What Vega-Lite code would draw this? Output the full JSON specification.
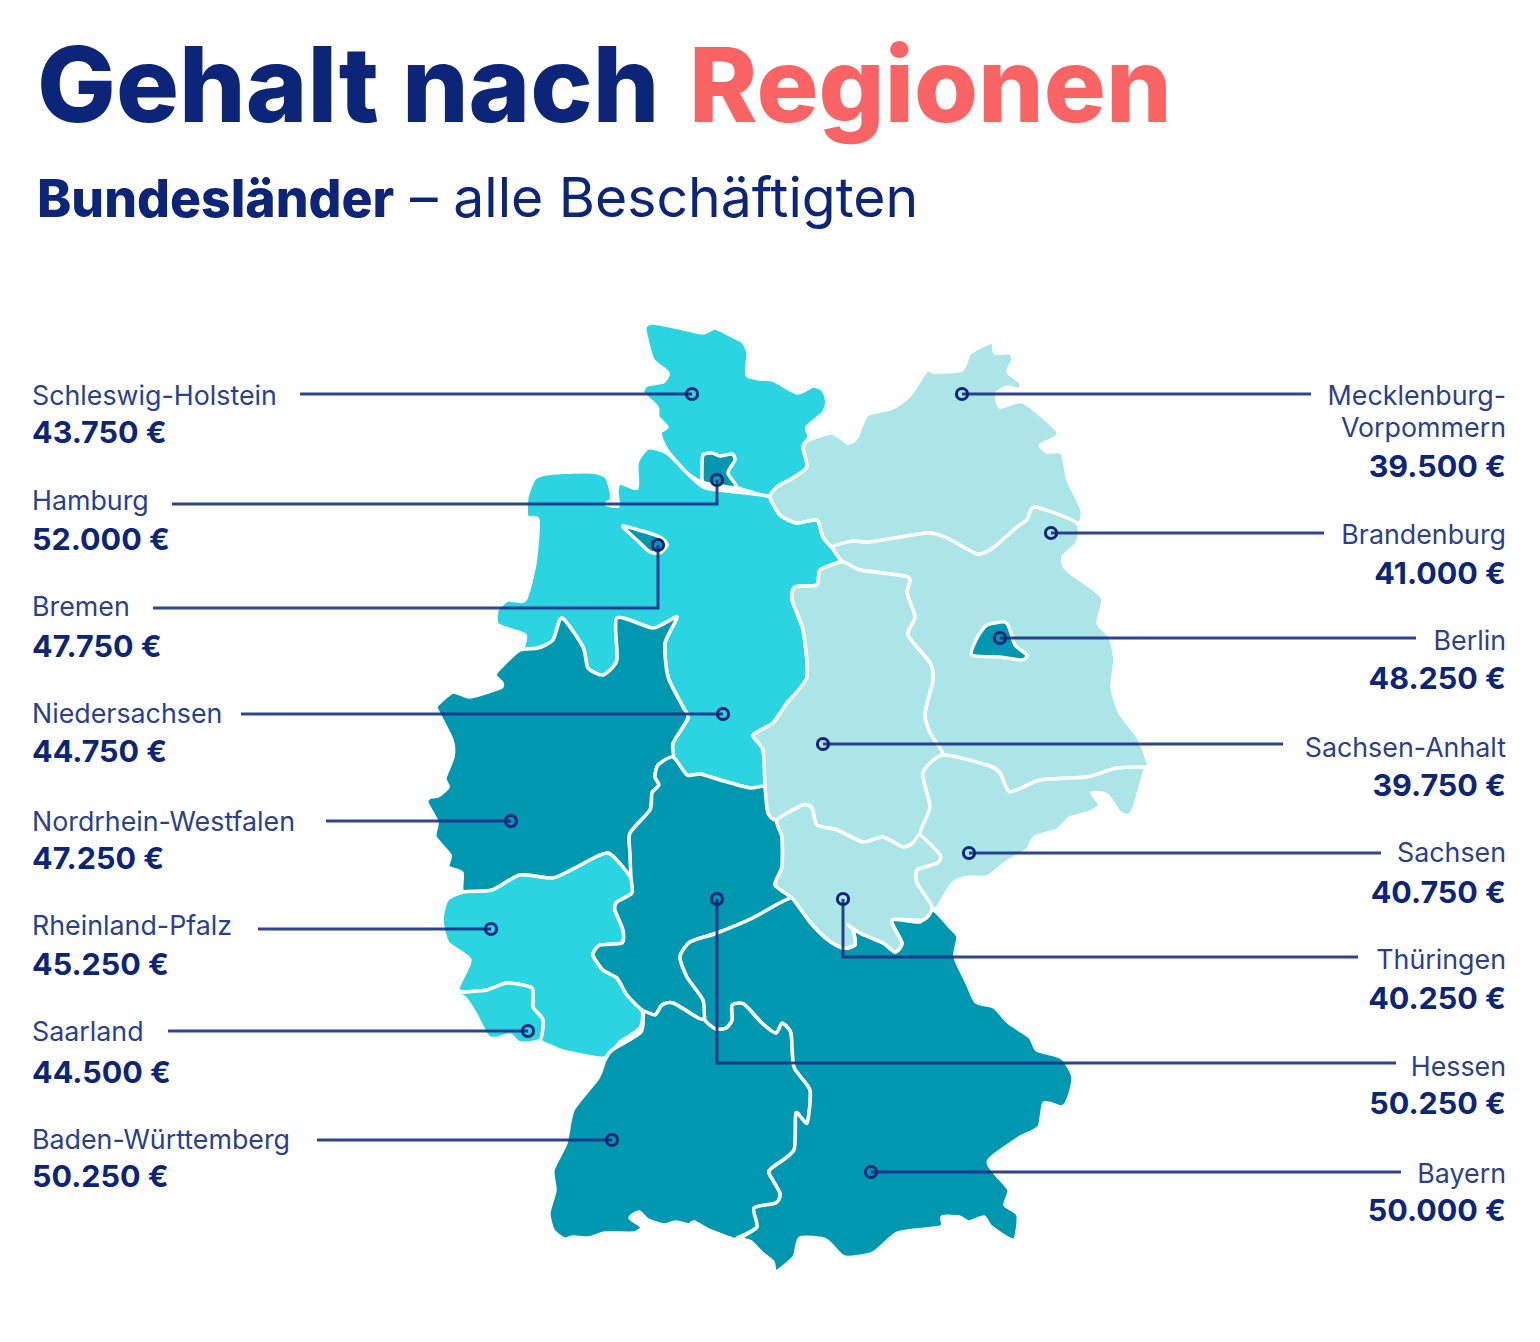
{"$schema":"https://vega.github.io/schema/vega-lite/v6.json","width":1540,"height":1342,"padding":0,"autosize":{"type":"none"},"background":"white","config":{"view":{"stroke":null}},
"encoding":{"x":{"field":"x","type":"quantitative","scale":{"domain":[0,1540]},"axis":null},"y":{"field":"y","type":"quantitative","scale":{"domain":[1342,0]},"axis":null}},
"datasets":{
"regions":[
{"name":"Schleswig-Holstein","salary":43750,"pts":[[645,327],[653,323],[680,328],[703,333],[715,328],[730,335],[743,342],[748,353],[747,375],[760,379],[773,380],[797,393],[813,386],[823,390],[827,402],[823,413],[807,427],[809,437],[803,447],[807,467],[793,478],[777,487],[770,497],[737,488],[717,488],[703,483],[687,473],[667,450],[660,433],[667,427],[658,417],[657,407],[643,393],[647,385],[663,382],[668,373],[653,360],[647,340]]},
{"name":"Niedersachsen","salary":44750,"pts":[[770,497],[780,515],[797,523],[817,520],[823,537],[840,560],[820,570],[817,585],[795,587],[792,600],[803,630],[807,677],[787,703],[773,723],[753,735],[763,750],[765,787],[750,788],[720,780],[700,774],[687,775],[673,757],[673,743],[688,718],[683,707],[668,677],[665,643],[677,617],[653,628],[617,618],[617,660],[603,675],[588,668],[583,647],[562,618],[553,640],[538,648],[523,650],[525,635],[498,625],[497,610],[508,600],[525,600],[535,563],[538,520],[527,517],[527,497],[535,478],[553,473],[593,472],[607,478],[612,498],[606,504],[618,506],[617,492],[620,483],[637,488],[637,463],[648,448],[667,453],[687,473],[703,487],[717,490],[737,492]]},
{"name":"Nordrhein-Westfalen","salary":47250,"pts":[[562,618],[583,647],[588,668],[603,675],[617,660],[617,618],[653,628],[677,617],[665,643],[668,677],[683,707],[688,718],[673,743],[673,757],[658,765],[655,777],[659,785],[652,793],[650,810],[630,833],[630,853],[630,875],[608,853],[577,867],[553,878],[520,875],[492,890],[463,892],[462,873],[448,867],[450,855],[435,837],[437,822],[427,803],[430,797],[438,796],[448,787],[445,778],[453,757],[452,740],[437,710],[437,705],[453,692],[470,697],[500,688],[502,683],[495,675],[503,665],[520,650],[538,648],[553,640]]},
{"name":"Rheinland-Pfalz","salary":45250,"pts":[[463,892],[492,890],[520,875],[553,878],[577,867],[608,853],[631,878],[632,893],[617,902],[615,910],[623,930],[622,943],[600,945],[593,955],[603,970],[617,978],[627,995],[642,1010],[640,1028],[620,1042],[605,1058],[567,1052],[553,1047],[540,1040],[543,1020],[533,1007],[532,988],[507,983],[487,990],[458,990],[470,960],[448,943],[442,920],[447,900]]},
{"name":"Saarland","salary":44500,"pts":[[458,993],[487,990],[507,983],[532,988],[533,1007],[543,1020],[540,1040],[520,1043],[510,1035],[498,1038],[488,1037],[475,1013],[465,998]]},
{"name":"Hessen","salary":50250,"pts":[[673,757],[687,775],[700,774],[720,780],[750,788],[765,787],[768,813],[777,820],[782,837],[782,867],[775,885],[792,898],[753,918],[717,933],[690,942],[680,957],[687,977],[703,1000],[705,1020],[698,1018],[673,1003],[662,1005],[655,1015],[642,1010],[627,995],[617,978],[603,970],[593,955],[600,945],[622,943],[623,930],[615,910],[617,902],[632,893],[631,878],[630,853],[630,833],[650,810],[652,793],[659,785],[655,777],[658,765]]},
{"name":"Baden-Württemberg","salary":50250,"pts":[[644,1012],[655,1015],[662,1005],[673,1003],[698,1018],[705,1020],[716,1029],[726,1028],[732,1020],[732,1005],[744,1004],[762,1023],[776,1033],[782,1023],[791,1033],[794,1067],[810,1090],[807,1123],[796,1113],[794,1150],[773,1167],[769,1173],[780,1193],[776,1203],[754,1208],[757,1227],[737,1238],[735,1240],[709,1230],[694,1222],[689,1225],[676,1222],[664,1225],[648,1220],[639,1212],[630,1218],[642,1227],[634,1233],[605,1233],[589,1238],[573,1237],[564,1239],[553,1230],[549,1213],[555,1190],[553,1170],[566,1143],[573,1110],[598,1078],[605,1060],[612,1050],[641,1032]]},
{"name":"Bayern","salary":50000,"pts":[[792,898],[810,922],[828,940],[843,948],[855,945],[853,930],[848,925],[860,933],[883,943],[895,952],[902,943],[892,920],[920,922],[932,909],[950,927],[958,937],[955,957],[967,983],[976,1002],[994,1007],[1009,1023],[1030,1037],[1037,1050],[1062,1058],[1073,1077],[1069,1097],[1062,1107],[1044,1103],[1039,1127],[1019,1138],[989,1160],[994,1172],[1009,1190],[1005,1205],[1018,1215],[1014,1240],[991,1227],[984,1217],[969,1222],[959,1217],[942,1217],[941,1227],[898,1233],[873,1253],[844,1257],[826,1240],[800,1238],[794,1257],[776,1272],[773,1262],[762,1253],[751,1242],[741,1238],[757,1227],[754,1208],[776,1203],[780,1193],[769,1173],[773,1167],[794,1150],[796,1113],[807,1123],[810,1090],[794,1067],[791,1033],[782,1023],[776,1033],[762,1023],[744,1004],[732,1005],[732,1020],[726,1028],[716,1029],[705,1020],[703,1000],[687,977],[680,957],[690,942],[717,933],[753,918]]},
{"name":"Mecklenburg-Vorpommern","salary":39500,"pts":[[770,497],[777,487],[793,478],[807,467],[803,447],[809,440],[832,433],[848,443],[857,437],[867,415],[893,408],[910,395],[927,370],[933,372],[962,370],[970,353],[992,342],[995,353],[1010,353],[1013,360],[1008,372],[1020,382],[1020,390],[1008,387],[997,393],[1000,407],[1023,402],[1057,430],[1055,438],[1040,445],[1047,452],[1062,453],[1068,480],[1082,510],[1077,523],[1035,507],[1027,520],[1017,527],[993,548],[977,554],[947,538],[927,533],[870,542],[853,541],[833,547],[823,537],[817,520],[797,523],[780,515]]},
{"name":"Brandenburg","salary":41000,"pts":[[833,547],[853,541],[870,542],[927,533],[947,538],[977,554],[993,548],[1017,527],[1027,520],[1035,507],[1077,523],[1077,543],[1063,557],[1067,570],[1102,597],[1098,623],[1110,637],[1115,660],[1112,687],[1120,713],[1138,737],[1147,760],[1147,767],[1117,768],[1087,777],[1040,780],[1010,792],[1000,773],[987,765],[943,755],[930,733],[925,713],[933,680],[930,663],[908,635],[915,617],[907,593],[908,577],[860,570],[843,562]]},
{"name":"Sachsen-Anhalt","salary":39750,"pts":[[843,562],[860,570],[908,577],[907,593],[915,617],[908,635],[930,663],[933,680],[925,713],[930,733],[943,755],[923,773],[930,807],[920,835],[913,843],[903,847],[883,837],[863,842],[837,830],[817,825],[812,808],[803,805],[777,820],[768,813],[765,787],[763,750],[753,735],[773,723],[787,703],[807,677],[803,630],[792,600],[795,587],[817,585],[820,570]]},
{"name":"Sachsen","salary":40750,"pts":[[943,755],[987,765],[1000,773],[1010,792],[1040,780],[1087,777],[1117,768],[1147,767],[1145,770],[1132,813],[1120,813],[1107,795],[1092,793],[1100,805],[1090,812],[1070,818],[1057,830],[1035,837],[1027,850],[1007,862],[987,877],[970,877],[953,883],[937,908],[932,907],[917,883],[917,870],[937,863],[940,855],[920,835],[930,807],[923,773]]},
{"name":"Thüringen","salary":40250,"pts":[[777,820],[803,805],[812,808],[817,825],[837,830],[863,842],[883,837],[903,847],[913,843],[920,835],[940,855],[937,863],[917,870],[917,883],[932,907],[923,920],[892,920],[902,943],[895,952],[883,943],[860,933],[848,925],[853,930],[855,945],[843,948],[828,940],[810,922],[792,898],[775,885],[782,867],[782,837]]},
{"name":"Berlin","salary":48250,"pts":[[972,655],[977,638],[987,625],[1005,622],[1010,630],[1015,645],[1027,655],[1022,660],[1000,657]]},
{"name":"Hamburg","salary":52000,"pts":[[703,455],[712,453],[720,456],[732,454],[735,460],[728,473],[737,487],[727,487],[717,485],[703,482],[702,470]]},
{"name":"Bremen","salary":47750,"pts":[[623,527],[628,527],[660,537],[667,545],[660,553],[650,552],[640,543]]}
],
"leaders":[
{"name":"Schleswig-Holstein","step":1,"x":300,"y":394},{"name":"Schleswig-Holstein","step":2,"x":692,"y":394},
{"name":"Hamburg","step":1,"x":172,"y":504},{"name":"Hamburg","step":2,"x":717,"y":504},{"name":"Hamburg","step":3,"x":717,"y":480},
{"name":"Bremen","step":1,"x":153,"y":608},{"name":"Bremen","step":2,"x":658,"y":608},{"name":"Bremen","step":3,"x":658,"y":545},
{"name":"Niedersachsen","step":1,"x":241,"y":714},{"name":"Niedersachsen","step":2,"x":723,"y":714},
{"name":"Nordrhein-Westfalen","step":1,"x":326,"y":821},{"name":"Nordrhein-Westfalen","step":2,"x":511,"y":821},
{"name":"Rheinland-Pfalz","step":1,"x":258,"y":929},{"name":"Rheinland-Pfalz","step":2,"x":491,"y":929},
{"name":"Saarland","step":1,"x":168,"y":1031},{"name":"Saarland","step":2,"x":528,"y":1031},
{"name":"Baden-Württemberg","step":1,"x":317,"y":1140},{"name":"Baden-Württemberg","step":2,"x":612,"y":1140},
{"name":"Mecklenburg-Vorpommern","step":1,"x":1311,"y":394},{"name":"Mecklenburg-Vorpommern","step":2,"x":962,"y":394},
{"name":"Brandenburg","step":1,"x":1324,"y":533},{"name":"Brandenburg","step":2,"x":1051,"y":533},
{"name":"Berlin","step":1,"x":1416,"y":638},{"name":"Berlin","step":2,"x":1000,"y":638},
{"name":"Sachsen-Anhalt","step":1,"x":1283,"y":744},{"name":"Sachsen-Anhalt","step":2,"x":823,"y":744},
{"name":"Sachsen","step":1,"x":1381,"y":853},{"name":"Sachsen","step":2,"x":969,"y":853},
{"name":"Thüringen","step":1,"x":1358,"y":957},{"name":"Thüringen","step":2,"x":843,"y":957},{"name":"Thüringen","step":3,"x":843,"y":899},
{"name":"Hessen","step":1,"x":1396,"y":1063},{"name":"Hessen","step":2,"x":717,"y":1063},{"name":"Hessen","step":3,"x":717,"y":899},
{"name":"Bayern","step":1,"x":1401,"y":1172},{"name":"Bayern","step":2,"x":871,"y":1172}
],
"dots":[
{"name":"Schleswig-Holstein","x":692,"y":394},{"name":"Hamburg","x":717,"y":480},{"name":"Bremen","x":658,"y":545},{"name":"Niedersachsen","x":723,"y":714},{"name":"Nordrhein-Westfalen","x":511,"y":821},{"name":"Rheinland-Pfalz","x":491,"y":929},{"name":"Saarland","x":528,"y":1031},{"name":"Baden-Württemberg","x":612,"y":1140},{"name":"Mecklenburg-Vorpommern","x":962,"y":394},{"name":"Brandenburg","x":1051,"y":533},{"name":"Berlin","x":1000,"y":638},{"name":"Sachsen-Anhalt","x":823,"y":744},{"name":"Sachsen","x":969,"y":853},{"name":"Thüringen","x":843,"y":899},{"name":"Hessen","x":717,"y":899},{"name":"Bayern","x":871,"y":1172}
],
"labels":[
{"side":"left","x":32,"y":404,"kind":"name","text":"Schleswig-Holstein"},{"side":"left","x":32,"y":443,"kind":"value","text":"43.750 €"},
{"side":"left","x":32,"y":509,"kind":"name","text":"Hamburg"},{"side":"left","x":32,"y":550,"kind":"value","text":"52.000 €"},
{"side":"left","x":32,"y":615,"kind":"name","text":"Bremen"},{"side":"left","x":32,"y":657,"kind":"value","text":"47.750 €"},
{"side":"left","x":32,"y":722,"kind":"name","text":"Niedersachsen"},{"side":"left","x":32,"y":762,"kind":"value","text":"44.750 €"},
{"side":"left","x":32,"y":830,"kind":"name","text":"Nordrhein-Westfalen"},{"side":"left","x":32,"y":869,"kind":"value","text":"47.250 €"},
{"side":"left","x":32,"y":934,"kind":"name","text":"Rheinland-Pfalz"},{"side":"left","x":32,"y":975,"kind":"value","text":"45.250 €"},
{"side":"left","x":32,"y":1040,"kind":"name","text":"Saarland"},{"side":"left","x":32,"y":1083,"kind":"value","text":"44.500 €"},
{"side":"left","x":32,"y":1148,"kind":"name","text":"Baden-Württemberg"},{"side":"left","x":32,"y":1187,"kind":"value","text":"50.250 €"},
{"side":"right","x":1506,"y":404,"kind":"name","text":"Mecklenburg-"},{"side":"right","x":1506,"y":436,"kind":"name","text":"Vorpommern"},{"side":"right","x":1506,"y":477,"kind":"value","text":"39.500 €"},
{"side":"right","x":1506,"y":543,"kind":"name","text":"Brandenburg"},{"side":"right","x":1506,"y":584,"kind":"value","text":"41.000 €"},
{"side":"right","x":1506,"y":649,"kind":"name","text":"Berlin"},{"side":"right","x":1506,"y":689,"kind":"value","text":"48.250 €"},
{"side":"right","x":1506,"y":756,"kind":"name","text":"Sachsen-Anhalt"},{"side":"right","x":1506,"y":796,"kind":"value","text":"39.750 €"},
{"side":"right","x":1506,"y":861,"kind":"name","text":"Sachsen"},{"side":"right","x":1506,"y":903,"kind":"value","text":"40.750 €"},
{"side":"right","x":1506,"y":968,"kind":"name","text":"Thüringen"},{"side":"right","x":1506,"y":1009,"kind":"value","text":"40.250 €"},
{"side":"right","x":1506,"y":1075,"kind":"name","text":"Hessen"},{"side":"right","x":1506,"y":1114,"kind":"value","text":"50.250 €"},
{"side":"right","x":1506,"y":1182,"kind":"name","text":"Bayern"},{"side":"right","x":1506,"y":1221,"kind":"value","text":"50.000 €"}
],
"heads":[
{"x":37,"y":122,"text":"Gehalt nach","part":"a"},{"x":689,"y":122,"text":"Regionen","part":"b"}
],
"subs":[
{"x":37,"y":217,"text":"Bundesländer","part":"bold"},{"x":410,"y":217,"text":"– alle Beschäftigten","part":"regular"}
]
},
"layer":[
{"data":{"name":"regions"},"transform":[{"flatten":["pts"],"as":["pt"]}],"mark":{"type":"line","filled":true,"interpolate":"cardinal-closed","tension":0.35,"stroke":"white","strokeWidth":3.5,"strokeJoin":"round"},"encoding":{"x":{"field":"pt[0]","type":"quantitative","scale":{"domain":[0,1540]},"axis":null},"y":{"field":"pt[1]","type":"quantitative","scale":{"domain":[1342,0]},"axis":null},"detail":{"field":"name"},"order":{"value":null},"color":{"field":"salary","type":"quantitative","scale":{"type":"threshold","domain":[42000,47000],"range":["#ACE5E7","#2AD4E0","#0098B0"]},"legend":null}}},
{"data":{"name":"leaders"},"mark":{"type":"line","color":"#1A2F85","strokeWidth":3,"strokeJoin":"miter","opacity":0.9},"encoding":{"detail":{"field":"name"},"order":{"field":"step"}}},
{"data":{"name":"dots"},"mark":{"type":"point","filled":false,"size":125,"stroke":"#0C2578","strokeWidth":3,"opacity":1}},
{"data":{"name":"labels"},"transform":[{"filter":"datum.side==='left' && datum.kind==='name'"}],"mark":{"type":"text","align":"left","baseline":"alphabetic","dy":1,"font":"Inter","fontSize":26.8,"color":"#2B3F8C"},"encoding":{"text":{"field":"text"}}},
{"data":{"name":"labels"},"transform":[{"filter":"datum.side==='left' && datum.kind==='value'"}],"mark":{"type":"text","align":"left","baseline":"alphabetic","font":"Inter","fontSize":30.5,"fontWeight":700,"color":"#0C2578"},"encoding":{"text":{"field":"text"}}},
{"data":{"name":"labels"},"transform":[{"filter":"datum.side==='right' && datum.kind==='name'"}],"mark":{"type":"text","align":"right","baseline":"alphabetic","dy":1,"font":"Inter","fontSize":26.8,"color":"#2B3F8C"},"encoding":{"text":{"field":"text"}}},
{"data":{"name":"labels"},"transform":[{"filter":"datum.side==='right' && datum.kind==='value'"}],"mark":{"type":"text","align":"right","baseline":"alphabetic","font":"Inter","fontSize":30.5,"fontWeight":700,"color":"#0C2578"},"encoding":{"text":{"field":"text"}}},
{"data":{"name":"heads"},"transform":[{"filter":"datum.part==='a'"}],"mark":{"type":"text","align":"left","baseline":"alphabetic","font":"Inter","fontSize":105,"fontWeight":800,"color":"#0C2578"},"encoding":{"text":{"field":"text"}}},
{"data":{"name":"heads"},"transform":[{"filter":"datum.part==='b'"}],"mark":{"type":"text","align":"left","baseline":"alphabetic","font":"Inter","fontSize":103.5,"fontWeight":800,"color":"#FA6464"},"encoding":{"text":{"field":"text"}}},
{"data":{"name":"subs"},"transform":[{"filter":"datum.part==='bold'"}],"mark":{"type":"text","align":"left","baseline":"alphabetic","font":"Inter","fontSize":51.7,"fontWeight":800,"color":"#0C2578"},"encoding":{"text":{"field":"text"}}},
{"data":{"name":"subs"},"transform":[{"filter":"datum.part==='regular'"}],"mark":{"type":"text","align":"left","baseline":"alphabetic","font":"Inter","fontSize":55.3,"fontWeight":400,"color":"#0C2578"},"encoding":{"text":{"field":"text"}}}
]}
